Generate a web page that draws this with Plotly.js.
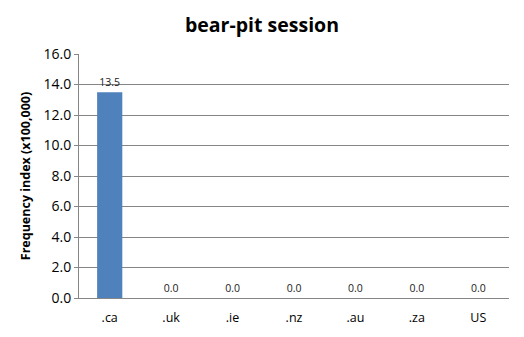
<!DOCTYPE html>
<html>
<head>
<meta charset="utf-8">
<script src="https://cdn.plot.ly/plotly-3.0.1.min.js"></script>
<style>html,body{margin:0;padding:0;background:#fff;}#chart{width:524px;height:337px;}</style>
</head>
<body>
<div id="chart"></div>
<script>
var categories = ['.ca', '.uk', '.ie', '.nz', '.au', '.za', 'US'];
var values = [13.5, 0.0, 0.0, 0.0, 0.0, 0.0, 0.0];
var yTicks = [0, 2, 4, 6, 8, 10, 12, 14, 16];

var trace = {
  type: 'bar',
  x: categories,
  y: values,
  marker: {color: '#4F81BD'},
  width: 0.41,
  text: values.map(function(v){ return v.toFixed(1); }),
  textposition: 'outside',
  cliponaxis: false,
  textfont: {family: 'Open Sans, sans-serif', size: 10.5, color: '#222'},
  hoverinfo: 'none'
};

var layout = {
  width: 524, height: 337,
  margin: {l: 79, r: 15, t: 54, b: 39},
  paper_bgcolor: '#fff', plot_bgcolor: '#fff',
  showlegend: false,
  title: {text: '<b>bear-pit session</b>', x: 0.5, xanchor: 'center', y: 0.925, yanchor: 'middle',
          font: {family: 'Open Sans, sans-serif', size: 19.5, color: '#000'}},
  xaxis: {
    type: 'category',
    showline: true, linecolor: '#868686', linewidth: 1,
    ticks: '', showgrid: false,
    tickfont: {family: 'Open Sans, sans-serif', size: 12.5, color: '#000'},
    ticklabelstandoff: 8
  },
  yaxis: {
    range: [0, 16],
    tickvals: yTicks,
    ticktext: yTicks.map(function(v){ return v.toFixed(1); }),
    showline: true, linecolor: '#868686', linewidth: 1,
    ticks: 'outside', ticklen: 4, tickcolor: '#868686',
    showgrid: true, gridcolor: '#868686', gridwidth: 1,
    zeroline: false,
    tickfont: {family: 'Open Sans, sans-serif', size: 14, color: '#000'},
    title: {text: '<b>Frequency index (x100,000)</b>', standoff: 10,
            font: {family: 'Open Sans, sans-serif', size: 12.5, color: '#000'}}
  }
};

Plotly.newPlot('chart', [trace], layout, {displayModeBar: false, staticPlot: true});
</script>
</body>
</html>
